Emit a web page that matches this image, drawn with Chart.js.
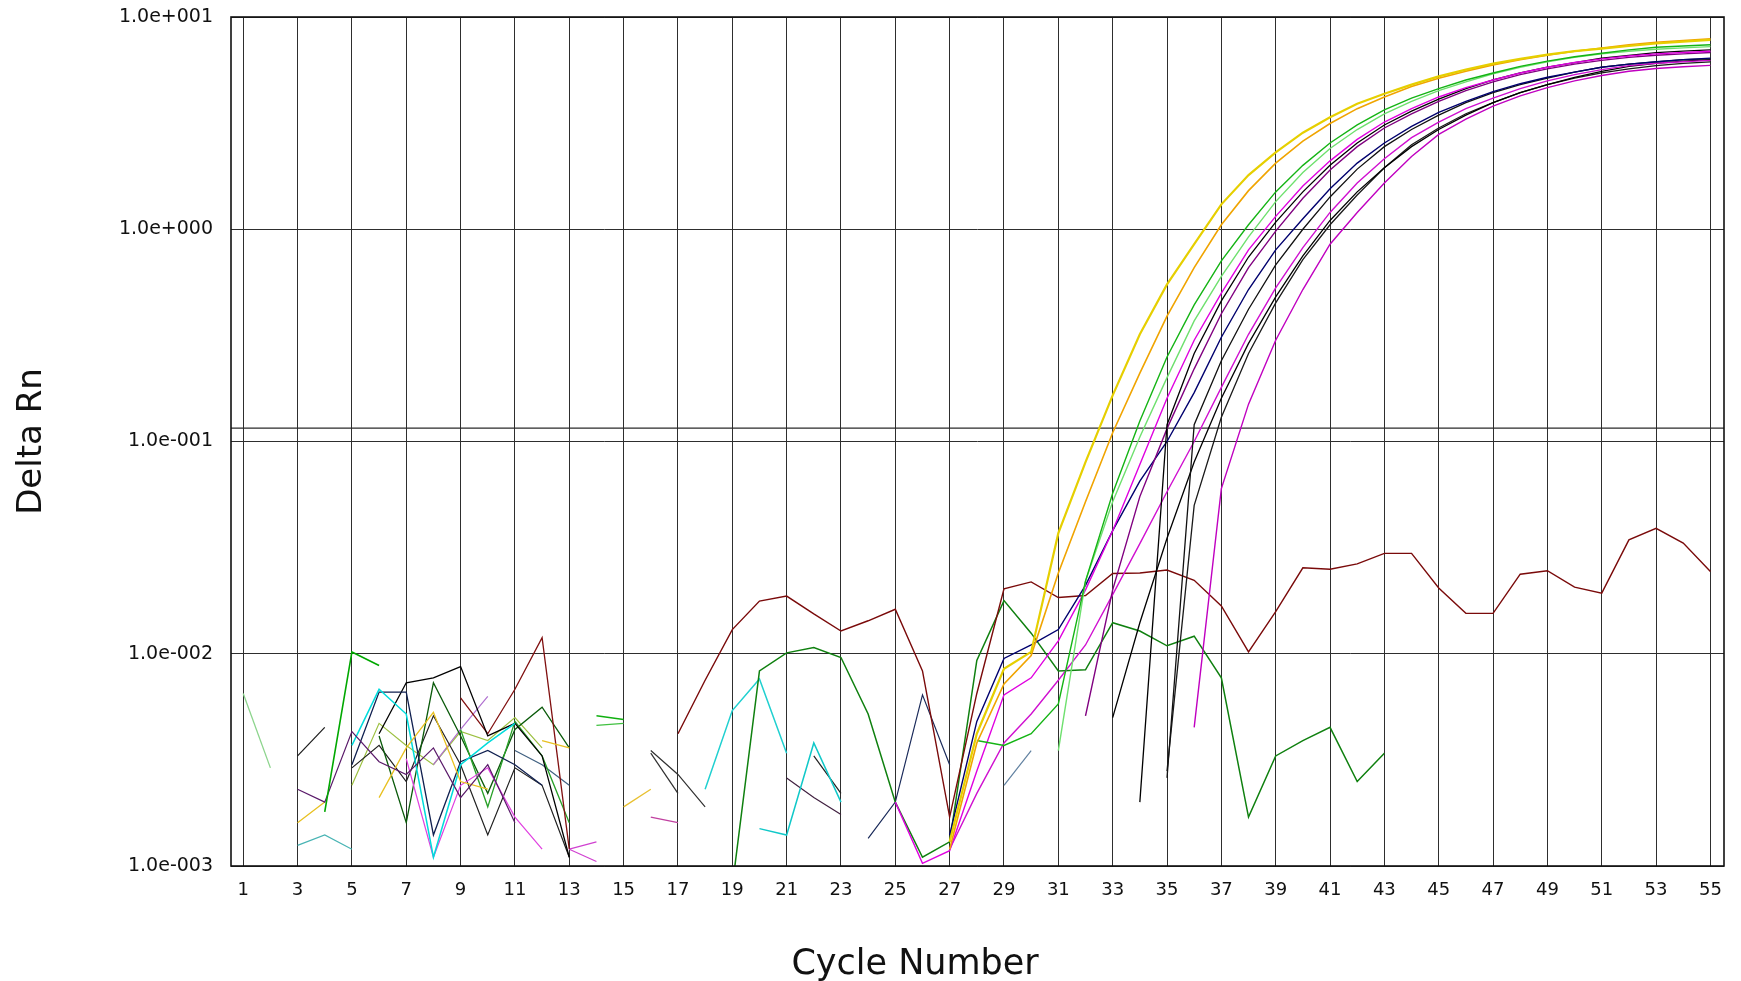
<!DOCTYPE html>
<html>
<head>
<meta charset="utf-8">
<title>Delta Rn vs Cycle Number</title>
<script src="https://cdn.jsdelivr.net/npm/chart.js@4.4.1/dist/chart.umd.min.js"></script>
<style>
  html, body { margin: 0; padding: 0; background: #fff; }
  #wrap { width: 1741px; height: 981px; position: relative; }
</style>
</head>
<body>
<div id="wrap"><canvas id="chart"></canvas></div>
<script>
// Amplification plot (Delta Rn, log scale).
// null = gap (the instrument reported a negative / missing value there)

const N = null;
const cycles = [1,2,3,4,5,6,7,8,9,10,11,12,13,14,15,16,17,18,19,20,21,22,23,24,25,26,27,28,
  29,30,31,32,33,34,35,36,37,38,39,40,41,42,43,44,45,46,47,48,49,50,51,52,53,54,55];
const xTicks = [1,3,5,7,9,11,13,15,17,19,21,23,25,27,29,31,33,35,37,39,41,43,45,47,49,51,53,55];
const xTickLabels = ['1','3','5','7','9','11','13','15','17','19','21','23','25','27',
  '29','31','33','35','37','39','41','43','45','47','49','51','53','55'];
const yTicks = [0.001, 0.01, 0.1, 1, 10];
const yTickLabels = ['1.0e-003', '1.0e-002', '1.0e-001', '1.0e+000', '1.0e+001'];
const threshold = 0.1156;
const xTitle = 'Cycle Number';
const yTitle = 'Delta Rn';

// a run of values that starts at the given cycle, null everywhere else
function at(start, vals) {
  return cycles.map(c => {
    const v = vals[c - start];
    return v === undefined ? null : v;
  });
}

// --- amplifying wells ---
const ampYellow  = at(27, [0.0013, 0.0042, 0.0085, 0.0102, 0.037, 0.08, 0.165, 0.32, 0.55, 0.85,
  1.31, 1.8, 2.3, 2.85, 3.37, 3.9, 4.35, 4.8, 5.25, 5.65, 6.03, 6.35, 6.65, 6.9, 7.1, 7.3, 7.5, 7.65, 7.8]);
const ampOrange  = at(27, [0.0012, 0.0038, 0.0072, 0.0098, 0.024, 0.052, 0.11, 0.21, 0.39, 0.66,
  1.05, 1.52, 2.05, 2.6, 3.15, 3.7, 4.2, 4.7, 5.15, 5.55, 5.95, 6.3, 6.6, 6.9, 7.15, 7.4, 7.6, 7.75, 7.9]);
const ampGreen   = at(28, [0.0039, 0.0037, 0.0042, 0.0058, 0.022, 0.057, 0.125, 0.25, 0.44, 0.71,
  1.05, 1.5, 2.0, 2.55, 3.1, 3.65, 4.15, 4.6, 5.05, 5.45, 5.85, 6.2, 6.5, 6.75, 7.0, 7.2, 7.3, 7.4]);
const ampLtGreen = at(31, [0.0035, 0.022, 0.052, 0.105, 0.2, 0.37, 0.6, 0.92, 1.35, 1.85,
  2.4, 2.95, 3.5, 4.0, 4.5, 4.95, 5.4, 5.8, 6.15, 6.45, 6.7, 6.9, 7.05, 7.15, 7.25]);
const ampMagenta = at(25, [0.002, 0.00103, 0.00118, 0.0028, 0.0064, 0.0077, 0.0115, 0.02, 0.038, 0.078,
  0.16, 0.3, 0.5, 0.8, 1.15, 1.6, 2.1, 2.65, 3.2, 3.7, 4.2, 4.65, 5.05, 5.45, 5.8, 6.1, 6.35, 6.55, 6.7, 6.8, 6.9]);
const ampBlack1  = at(34, [0.002, 0.12, 0.26, 0.46, 0.74, 1.08, 1.5, 2.0, 2.55, 3.1,
  3.6, 4.1, 4.6, 5.05, 5.45, 5.8, 6.1, 6.4, 6.6, 6.8, 6.9, 7.0]);
const ampPurple  = at(32, [0.0051, 0.02, 0.055, 0.115, 0.22, 0.4, 0.66, 0.98, 1.4, 1.9,
  2.45, 3.0, 3.5, 4.0, 4.5, 4.95, 5.35, 5.7, 6.0, 6.25, 6.45, 6.6, 6.7, 6.8]);
const ampNavy    = at(27, [0.0014, 0.0048, 0.0095, 0.011, 0.013, 0.021, 0.038, 0.065, 0.1, 0.17,
  0.31, 0.52, 0.8, 1.12, 1.55, 2.05, 2.55, 3.05, 3.55, 4.0, 4.45, 4.85, 5.2, 5.5, 5.8, 6.0, 6.15, 6.3, 6.4]);
const ampBlack2  = at(35, [0.0026, 0.12, 0.24, 0.42, 0.68, 1.0, 1.42, 1.92, 2.45, 2.95,
  3.45, 3.95, 4.4, 4.8, 5.15, 5.5, 5.8, 6.0, 6.15, 6.3, 6.35]);
const ampMagenta2 = at(27, [0.0012, 0.0022, 0.0038, 0.0052, 0.0075, 0.011, 0.019, 0.033, 0.058, 0.1,
  0.18, 0.32, 0.53, 0.82, 1.2, 1.65, 2.15, 2.7, 3.2, 3.7, 4.15, 4.6, 5.0, 5.35, 5.65, 5.9, 6.05, 6.15, 6.25]);
const ampBlack3  = at(33, [0.005, 0.014, 0.035, 0.08, 0.16, 0.29, 0.48, 0.75, 1.1, 1.5,
  1.95, 2.45, 2.95, 3.45, 3.95, 4.4, 4.8, 5.2, 5.55, 5.85, 6.05, 6.2, 6.3]);
const ampMagenta3 = at(36, [0.0045, 0.06, 0.15, 0.3, 0.52, 0.85, 1.2, 1.65, 2.2, 2.8,
  3.3, 3.8, 4.25, 4.65, 5.0, 5.3, 5.55, 5.72, 5.83, 5.92]);
const ampBlack4  = at(35, [0.0028, 0.05, 0.13, 0.26, 0.45, 0.72, 1.05, 1.45, 1.95, 2.5,
  3.0, 3.5, 3.95, 4.4, 4.8, 5.15, 5.45, 5.7, 5.9, 6.05, 6.15]);

// --- non-amplifying wells (negative controls) ---
const ntcRed   = at(17, [0.0042, 0.0075, 0.013, 0.0177, 0.0187, 0.0154, 0.0128, 0.0143, 0.0162, 0.0083,
  0.0017, 0.0065, 0.0202, 0.0218, 0.0184, 0.0188, 0.0239, 0.024, 0.0248, 0.0222,
  0.0168, 0.0102, 0.0158, 0.0254, 0.025, 0.0265, 0.0297, 0.0297, 0.0204, 0.0155,
  0.0155, 0.0237, 0.0246, 0.0206, 0.0193, 0.0344, 0.039, 0.0332, 0.0244]);
const ntcGreen = at(19, [0.0008, 0.0083, 0.0101, 0.0107, 0.0096, 0.0052, 0.002, 0.0011, 0.0013, 0.0093,
  0.0178, 0.0125, 0.0083, 0.0084, 0.014, 0.0128, 0.0109, 0.0121, 0.0077, 0.0017,
  0.0033, 0.0039, 0.0045, 0.0025, 0.0034]);

// --- baseline noise, early cycles ---
const nzLtGreen  = at(1, [0.0065, 0.0029]);
const nzGreen    = at(4, [0.0018, 0.0102, 0.0088]);
const nzBlack    = at(3, [0.0033, 0.0045]);
const nzPurple   = at(3, [0.0023, 0.002, 0.0043, 0.0031, 0.0027, 0.0036, 0.0021, 0.003, 0.0016]);
const nzTeal     = at(3, [0.00125, 0.0014, 0.0012]);
const nzYellow   = at(3, [0.0016, 0.002, N, 0.0021, 0.0036, 0.0053, 0.0025, 0.0023, N, 0.0039, 0.0036]);
const nzCyan     = at(5, [0.0037, 0.0068, 0.0052, 0.0011, 0.003, 0.0038, 0.0047]);
const nzNavy     = at(5, [0.003, 0.0066, 0.0066, 0.0014, 0.0031, 0.0035, 0.003, 0.0024]);
const nzBlackTop = at(6, [0.0042, 0.0073, 0.0077, 0.0087, 0.0041, 0.0047, 0.0033, 0.0011]);
const nzDarkRed  = at(9, [0.0062, 0.0042, 0.0068, 0.0119, 0.0012]);
const nzMagenta  = at(7, [0.0032, 0.0011, 0.0024, 0.0029, 0.0017, 0.0012]);
const nzGreen2   = at(9, [0.0044, 0.0019, 0.0048, 0.0033, 0.0016]);
const nzDkGreen  = at(6, [0.0041, 0.0016, 0.0073, 0.0041, 0.0022, 0.0044, 0.0056, 0.0036]);
const nzBlack2   = at(5, [0.0029, 0.0037, 0.0025, 0.0051, 0.003, 0.0014, 0.0029, 0.0024, 0.0011]);
const nzLavender = at(8, [0.003, 0.0044, 0.0063]);
const nzOlive    = at(5, [0.0024, 0.0047, 0.0037, 0.003, 0.0043, 0.0039, 0.005, 0.0036]);
const nzSlate    = at(11, [0.0035, 0.003, 0.0024]);
const nzMagA     = at(13, [0.0012, 0.0013]);
const nzMagB     = at(13, [0.0012, 0.00105]);
const nzGreen14a = at(14, [0.0051, 0.0049]);
const nzGreen14b = at(14, [0.0046, 0.0047]);
const nzYellow15 = at(15, [0.0019, 0.0023]);
const nzMag16    = at(16, [0.0017, 0.0016]);
const nzDark16   = at(16, [0.0034, 0.0022]);
const nzDark16b  = at(16, [0.0035, 0.0027, 0.0019]);
const nzCyan18   = at(18, [0.0023, 0.0054, 0.0076, 0.0034]);
const nzCyan20   = at(20, [0.0015, 0.0014, 0.0038, 0.002]);
const nzDark21   = at(21, [0.0026, 0.0021, 0.00175]);
const nzDark22   = at(22, [0.0033, 0.0022]);
const nzNavy24   = at(24, [0.00135, 0.002, 0.0064, 0.003]);
const nzSlate29  = at(29, [0.0024, 0.0035]);

// [values, colour, width] - first in the list is drawn on top
const lines = [
  [ampYellow, '#e6cf00', 2.2], [ampOrange, '#f0a400', 1.6],
  [ampGreen, '#14b414', 1.4], [ampLtGreen, '#6ee06e', 1.4],
  [ampMagenta, '#e000e0', 1.4], [ampBlack1, '#000000', 1.3],
  [ampPurple, '#800080', 1.4], [ampNavy, '#00006e', 1.4],
  [ampBlack2, '#111111', 1.3], [ampMagenta2, '#d010d0', 1.4],
  [ampBlack3, '#000000', 1.3], [ampMagenta3, '#c000c0', 1.4],
  [ampBlack4, '#1a1a1a', 1.3],
  [ntcRed, '#7a0a0a', 1.4], [ntcGreen, '#0f800f', 1.5],
  [nzLtGreen, '#8cd48c', 1.3], [nzGreen, '#00a800', 1.6], [nzBlack, '#1a1a1a', 1.2],
  [nzPurple, '#5a1a6a', 1.2], [nzTeal, '#48b4b4', 1.2], [nzYellow, '#e8c020', 1.3],
  [nzCyan, '#00dcdc', 1.5], [nzNavy, '#102050', 1.3], [nzBlackTop, '#000000', 1.3],
  [nzDarkRed, '#801010', 1.3], [nzMagenta, '#e040e0', 1.2], [nzGreen2, '#28a028', 1.3],
  [nzDkGreen, '#0a5a0a', 1.3], [nzBlack2, '#202020', 1.2], [nzLavender, '#b070d0', 1.2],
  [nzOlive, '#9cc040', 1.2], [nzSlate, '#406080', 1.2], [nzMagA, '#d040d0', 1.2],
  [nzMagB, '#d040d0', 1.2], [nzGreen14a, '#10b010', 1.4], [nzGreen14b, '#40c040', 1.4],
  [nzYellow15, '#e8c030', 1.3], [nzMag16, '#c040a0', 1.3], [nzDark16, '#303030', 1.2],
  [nzDark16b, '#303030', 1.2], [nzCyan18, '#20d0d0', 1.5], [nzCyan20, '#10c8c8', 1.5],
  [nzDark21, '#402040', 1.2], [nzDark22, '#202020', 1.2], [nzNavy24, '#1a2a5a', 1.2],
  [nzSlate29, '#6080a0', 1.2]
];

const X_MIN = 0.55, X_MAX = 55.5;

const datasets = lines.map(([vals, color, width]) => ({
  data: cycles.map((c, i) => ({ x: c, y: vals[i] })),
  borderColor: color,
  borderWidth: width,
  pointRadius: 0,
  tension: 0,
  spanGaps: false,
  fill: false
}));

// threshold line
datasets.push({
  data: [{ x: X_MIN, y: threshold }, { x: X_MAX, y: threshold }],
  borderColor: '#2a2a2a',
  borderWidth: 1.2,
  pointRadius: 0,
  fill: false
});

// plot frame + x-axis title (the title sits left of the plot centre in the original)
const frame = {
  id: 'frame',
  afterDraw(chart) {
    const { ctx, chartArea: a } = chart;
    ctx.save();
    ctx.strokeStyle = '#111';
    ctx.lineWidth = 1.6;
    ctx.strokeRect(a.left, a.top, a.right - a.left, a.bottom - a.top);
    ctx.fillStyle = '#111';
    ctx.font = '35px "DejaVu Sans"';
    ctx.textAlign = 'center';
    ctx.textBaseline = 'middle';
    ctx.fillText(xTitle, chart.width * 0.5256, chart.height - 16);
    ctx.restore();
  }
};

const gridColor = '#2e2e2e';

new Chart(document.getElementById('chart'), {
  type: 'line',
  data: { datasets },
  plugins: [frame],
  options: {
    responsive: true,
    maintainAspectRatio: false,
    animation: false,
    events: [],
    layout: { padding: { top: 17, right: 17, left: 0, bottom: 0 } },
    plugins: { legend: { display: false }, tooltip: { enabled: false } },
    scales: {
      x: {
        type: 'linear',
        min: X_MIN,
        max: X_MAX,
        afterBuildTicks: s => { s.ticks = xTicks.map(v => ({ value: v })); },
        afterFit: s => { s.height = 115; s.paddingLeft = 0; s.paddingRight = 0; },
        ticks: {
          autoSkip: false, maxRotation: 0, padding: 14,
          color: '#111', font: { family: 'DejaVu Sans', size: 18 },
          callback: v => xTickLabels[xTicks.indexOf(v)]
        },
        grid: { color: gridColor, lineWidth: 1, drawTicks: false },
        border: { display: false }
      },
      y: {
        type: 'logarithmic',
        min: 0.001,
        max: 10,
        afterBuildTicks: s => { s.ticks = yTicks.map(v => ({ value: v })); },
        afterFit: s => { s.width = 231; s.paddingTop = 0; s.paddingBottom = 0; },
        ticks: {
          padding: 18, color: '#111', font: { family: 'DejaVu Sans', size: 19 },
          callback: v => yTickLabels[yTicks.indexOf(v)]
        },
        grid: { color: gridColor, lineWidth: 1, drawTicks: false },
        border: { display: false },
        title: {
          display: true, text: yTitle, color: '#111',
          font: { family: 'DejaVu Sans', size: 34 },
          padding: { top: 12, bottom: 0 }
        }
      }
    }
  }
});
</script>
</body>
</html>
